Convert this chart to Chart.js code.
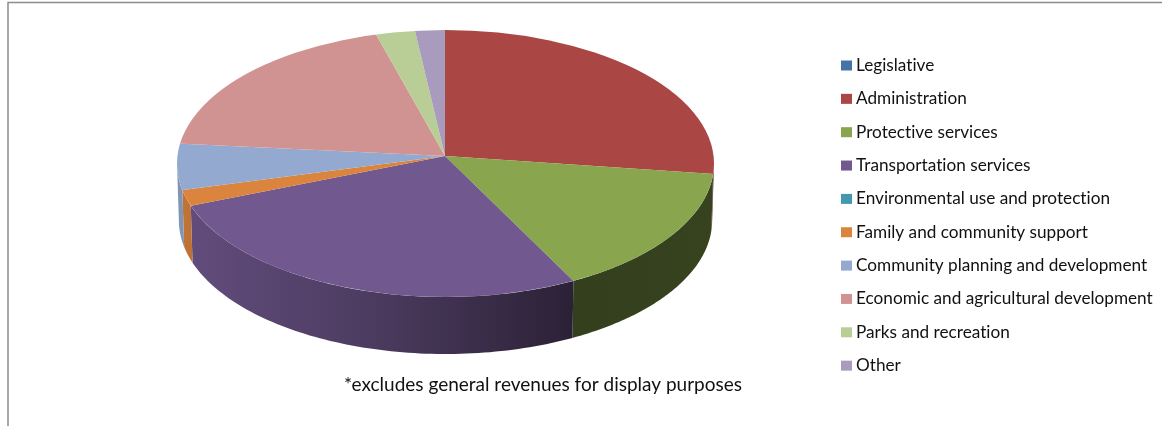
<!DOCTYPE html>
<html lang="en">
<head>
    <meta charset="UTF-8">
    <title>Revenues by function</title>
    <script src="https://cdn.jsdelivr.net/npm/chart.js@4/dist/chart.umd.min.js"></script>
    <style>
        html, body { margin: 0; padding: 0; background: #fff; }
        canvas { display: block; }
    </style>
</head>
<body>
<canvas id="myChart" width="1162" height="426"></canvas>
<script>
    const categories = [
        "Legislative",
        "Administration",
        "Protective services",
        "Transportation services",
        "Environmental use and protection",
        "Family and community support",
        "Community planning and development",
        "Economic and agricultural development",
        "Parks and recreation",
        "Other"
    ];
    const shares = [0, 27.1, 15.3, 26.6, 0, 1.9, 5.5, 19.1, 2.5, 1.9];
    const colors = ["#4572A7", "#AA4643", "#89A54E", "#71588F", "#4198AF", "#DB843D", "#93A9CF", "#D19392", "#B9CD96", "#A99BBD"];
    const footnote = "*excludes general revenues for display purposes";

    // apex of the slices and the rim they are cut to (rim is lower than the apex, like a tilted disc)
    const apex = { x: 445, y: 156, rx: 300, ry: 150 };
    const rim = { x: 445.5, y: 163.5, rx: 268.5, ry: 133.5 };
    const depth = 57;
    const fontName = "Lato, 'Open Sans', sans-serif";

    function shade(hex, f) {
        const n = parseInt(hex.slice(1), 16);
        return `rgb(${(n >> 16) * f},${((n >> 8) & 255) * f},${(n & 255) * f})`;
    }

    // where a slice edge at this angle meets the rim
    function rimPoint(angle) {
        const dx = Math.cos(angle) * apex.rx, dy = Math.sin(angle) * apex.ry;
        const ox = (apex.x - rim.x) / rim.rx, oy = (apex.y - rim.y) / rim.ry;
        const ux = dx / rim.rx, uy = dy / rim.ry;
        const a = ux * ux + uy * uy, b = 2 * (ox * ux + oy * uy), c = ox * ox + oy * oy - 1;
        const t = (-b + Math.sqrt(b * b - 4 * a * c)) / (2 * a);
        return { x: apex.x + t * dx, y: apex.y + t * dy };
    }

    const pie3d = {
        id: "pie3d",
        beforeDatasetsDraw(chart) {
            const ctx = chart.ctx;
            const arcs = chart.getDatasetMeta(0).data;

            // side wall of each slice, front half only; lower edge is a touch narrower
            arcs.forEach((arc, i) => {
                if (arc.endAngle - arc.startAngle <= 0) return;
                const pts = [];
                for (let s = 0; s <= 80; s++) {
                    const p = rimPoint(arc.startAngle + (arc.endAngle - arc.startAngle) * s / 80);
                    if (p.y >= rim.y) pts.push(p);
                }
                if (pts.length < 2) return;
                const grad = ctx.createLinearGradient(rim.x - rim.rx, 0, rim.x + rim.rx, 0);
                grad.addColorStop(0, shade(colors[i], 0.88));
                grad.addColorStop(0.35, shade(colors[i], 0.68));
                grad.addColorStop(0.74, shade(colors[i], 0.38));
                grad.addColorStop(1, shade(colors[i], 0.4));
                ctx.beginPath();
                pts.forEach((p, k) => k ? ctx.lineTo(p.x, p.y) : ctx.moveTo(p.x, p.y));
                pts.slice().reverse().forEach(p => ctx.lineTo(rim.x + (p.x - rim.x) * 0.993, p.y + depth));
                ctx.closePath();
                ctx.fillStyle = grad;
                ctx.fill();
            });

            // top face: the library's arcs, squashed and cut to the rim
            const first = arcs[0];
            ctx.save();
            ctx.beginPath();
            ctx.ellipse(rim.x, rim.y, rim.rx, rim.ry, 0, 0, Math.PI * 2);
            ctx.clip();
            ctx.translate(apex.x, apex.y);
            ctx.scale(apex.rx / first.outerRadius, apex.ry / first.outerRadius);
            ctx.translate(-first.x, -first.y);
        },
        afterDatasetsDraw(chart) {
            chart.ctx.restore();
        },
        afterDraw(chart) {
            const ctx = chart.ctx;
            ctx.save();

            // frame, open on the right and bottom
            ctx.strokeStyle = "#8c8c8c";
            ctx.lineWidth = 1.5;
            ctx.beginPath();
            ctx.moveTo(8, 426);
            ctx.lineTo(8, 2.5);
            ctx.lineTo(1162, 2.5);
            ctx.stroke();

            // no ligatures in the labels
            ctx.textRendering = "optimizeSpeed";
            ctx.textBaseline = "middle";

            // legend
            ctx.font = "17.2px " + fontName;
            categories.forEach((name, i) => {
                const y = 65.5 + i * 33.35;
                ctx.fillStyle = colors[i];
                ctx.fillRect(841, y - 5, 11, 10);
                ctx.fillStyle = "#111";
                ctx.fillText(name, 856, y);
            });

            ctx.font = "19px " + fontName;
            ctx.fillStyle = "#111";
            ctx.fillText(footnote, 344, 385);
            ctx.restore();
        }
    };

    new Chart(document.getElementById("myChart").getContext("2d"), {
        type: "pie",
        data: {
            labels: categories,
            datasets: [{ data: shares, backgroundColor: colors, borderWidth: 0 }]
        },
        options: {
            responsive: false,
            animation: false,
            plugins: { legend: { display: false }, tooltip: { enabled: false } }
        },
        plugins: [pie3d]
    });
</script>
</body>
</html>
